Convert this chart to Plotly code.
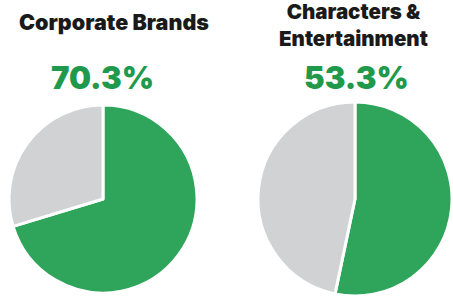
import plotly.graph_objects as go

titles = ["Corporate Brands", "Characters &<br>Entertainment"]
shares = [70.3, 53.3]
labels = ["Share", "Other"]

W, H = 453, 297
green = "#2ea55a"
gray = "#d1d2d4"
text_green = "#1f9a4c"

centers = [(103, 199, 94), (355, 199, 97)]

fig = go.Figure()
for (cx, cy, r), s in zip(centers, shares):
    yb = H - cy
    fig.add_trace(go.Pie(
        labels=labels,
        values=[s, 100 - s],
        sort=False,
        direction="clockwise",
        rotation=0,
        textinfo="none",
        hoverinfo="label+percent",
        marker=dict(colors=[green, gray], line=dict(color="white", width=3)),
        domain=dict(x=[(cx - r) / W, (cx + r) / W], y=[(yb - r) / H, (yb + r) / H]),
        showlegend=False,
    ))

title_pos = [(114, 22), (353, 25)]
title_sizes = [21.5, 20.5]
pct_pos = [(102, 77), (356, 77)]
for (tx, ty), t, fs in zip(title_pos, titles, title_sizes):
    fig.add_annotation(x=tx / W, y=1 - ty / H, xref="paper", yref="paper",
                       text=t, showarrow=False, xanchor="center", yanchor="middle",
                       font=dict(family="Inter", size=fs, color="#1a1a1a", weight=900),
                       align="center")
for (px, py), s in zip(pct_pos, shares):
    fig.add_annotation(x=px / W, y=1 - py / H, xref="paper", yref="paper",
                       text=f"{s:.1f}%", showarrow=False, xanchor="center", yanchor="middle",
                       font=dict(family="Inter", size=31, color=text_green, weight=900))

fig.update_layout(width=W, height=H, margin=dict(l=0, r=0, t=0, b=0),
                  paper_bgcolor="white", plot_bgcolor="white")
fig.write_html("out.html", config={"displayModeBar": False},
               post_script="document.body.style.margin='0';")
